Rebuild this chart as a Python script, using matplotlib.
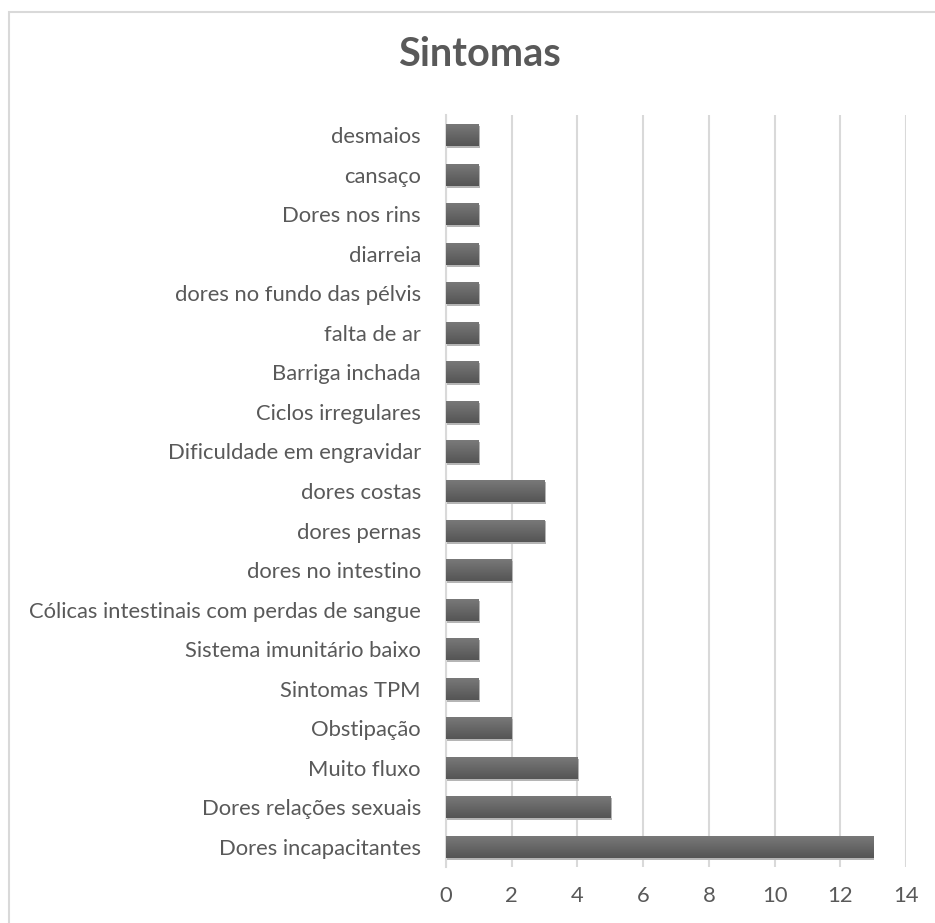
import matplotlib.pyplot as plt
import matplotlib.patches as mpatches
from matplotlib.colors import LinearSegmentedColormap
import numpy as np

plt.rcParams['font.family'] = ['Lato', 'DejaVu Sans']

symptoms = ['Dores incapacitantes', 'Dores relações sexuais', 'Muito fluxo', 'Obstipação',
            'Sintomas TPM', 'Sistema imunitário baixo', 'Cólicas intestinais com perdas de sangue',
            'dores no intestino', 'dores pernas', 'dores costas', 'Dificuldade em engravidar',
            'Ciclos irregulares', 'Barriga inchada', 'falta de ar', 'dores no fundo das pélvis',
            'diarreia', 'Dores nos rins', 'cansaço', 'desmaios']
counts = [13, 5, 4, 2, 1, 1, 1, 2, 3, 3, 1, 1, 1, 1, 1, 1, 1, 1, 1]

fig = plt.figure(figsize=(9.35, 9.23), dpi=100)
ax = fig.add_axes([0.477, 0.061, 0.492, 0.814])

ypos = np.arange(len(symptoms))
bars = ax.barh(ypos, counts, height=0.56, color='#666666', zorder=3)

# light shadow + vertical gradient on each bar
cmap = LinearSegmentedColormap.from_list('g', ['#7a7a7a', '#555555'])
grad = np.linspace(0, 1, 50).reshape(-1, 1)
for b in bars:
    x0, y0 = b.get_x(), b.get_y()
    w, h = b.get_width(), b.get_height()
    sh = mpatches.Rectangle((x0 + 0.04, y0 - 0.05), w, h, color='#b5b5b5', zorder=2, lw=0)
    ax.add_patch(sh)
    im = ax.imshow(grad, cmap=cmap, extent=(x0, x0 + w, y0, y0 + h),
                   aspect='auto', zorder=4, origin='upper')
    im.set_clip_path(b)

ax.set_xlim(0, 14)
ax.set_ylim(-0.5, len(symptoms) - 0.5)
ax.set_xticks(range(0, 15, 2))
ax.set_yticks(ypos)
ax.set_yticklabels(symptoms)
ax.tick_params(axis='both', length=0, labelsize=15.8, colors='#595959')
ax.tick_params(axis='y', pad=18)
ax.tick_params(axis='x', pad=14)
ax.grid(axis='x', color='#d9d9d9', lw=1.5, zorder=0)
for s in ['top', 'right', 'bottom']:
    ax.spines[s].set_visible(False)
ax.spines['left'].set_color('#d9d9d9')
ax.spines['left'].set_linewidth(1.5)

fig.text(479 / 935, 1 - 55 / 923, 'Sintomas', ha='center', va='center', fontsize=28.5,
         fontweight='bold', color='#595959')
fig.patches.append(mpatches.Rectangle((9 / 935, -0.01), 1.0, 1 - 12 / 923 + 0.01,
                                      transform=fig.transFigure, fill=False,
                                      edgecolor='#d9d9d9', lw=1.5))

fig.savefig('out.png', dpi=100)
